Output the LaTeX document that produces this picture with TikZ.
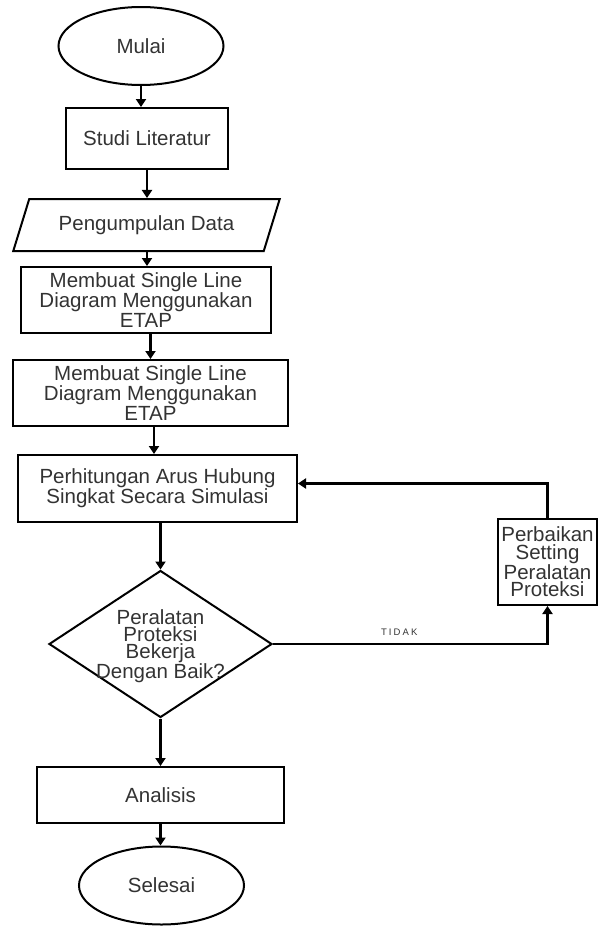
\documentclass[tikz,border=0pt]{standalone}
\usepackage{fontspec}
\setmainfont{Liberation Sans}
\newfontfamily\tidakfont[LetterSpace=22]{Liberation Sans}
\usetikzlibrary{shapes.geometric,arrows.meta}
\definecolor{txt}{HTML}{333333}
\begin{document}
\begin{tikzpicture}[x=1pt,y=-1pt,
  base/.style={draw=black,line width=2pt,text=txt,inner sep=0pt,align=center,
    font=\fontsize{20.5}{16}\selectfont},
  term/.style={base,ellipse,minimum width=165pt,minimum height=78pt},
  proc/.style={base,rectangle},
  io/.style={base,trapezium,trapezium left angle=58,trapezium right angle=122,
    trapezium stretches=true,minimum width=267pt,minimum height=52pt},
  dec/.style={draw=black,line width=2pt,diamond,minimum width=223pt,minimum height=147pt,inner sep=0pt},
  dectext/.style={text=txt,align=center,font=\fontsize{20.5}{17}\selectfont},
  arr/.style={line width=2.3pt,-{Triangle[width=10pt,length=8pt]}}]
\useasboundingbox (0,0) rectangle (598,926);
\node[term] (mulai) at (141,46) {Mulai};
\node[proc,minimum width=162pt,minimum height=61pt] (studi) at (147,138.5) {Studi Literatur};
\node[io] (data) at (146.5,225) {Pengumpulan Data};
\node[proc,minimum width=250pt,minimum height=66pt] (sld1) at (146,300) {Membuat Single Line\\Diagram Menggunakan\\ETAP};
\node[proc,minimum width=275pt,minimum height=66pt] (sld2) at (150.5,393) {Membuat Single Line\\Diagram Menggunakan\\ETAP};
\node[proc,minimum width=279pt,minimum height=67pt] (hit) at (157.5,488.5) {Perhitungan Arus Hubung\\Singkat Secara Simulasi};
\node[proc,minimum width=99pt,minimum height=86pt,font=\fontsize{20.5}{17.5}\selectfont] (perb) at (547.5,562) {Perbaikan\\Setting\\Peralatan\\Proteksi};
\node[dec] (dec) at (160.5,644) {};
\node[dectext] (dect) at (160.5,646) {Peralatan\\Proteksi\\Bekerja\\Dengan Baik?};
\node[proc,minimum width=247pt,minimum height=56pt] (anal) at (160.5,795) {Analisis};
\node[term] (sel) at (161.5,885.5) {Selesai};

\draw[arr] (mulai.south) -- (mulai.south |- studi.north);
\draw[arr] (studi.south) -- (studi.south |- data.north);
\draw[arr] (studi.south |- data.south) -- (studi.south |- sld1.north);
\draw[arr] (sld2.north |- sld1.south) -- (sld2.north);
\draw[arr] ([xshift=3.5pt]sld2.south) -- ([xshift=3.5pt]sld2.south |- hit.north);
\draw[arr] (dec.north |- hit.south) -- (dec.north);
\draw[arr] (dec.south) -- (anal.north);
\draw[arr] (anal.south) -- (anal.south |- sel.north);
\draw[arr] (perb.north) |- ([yshift=5pt]hit.east);
\draw[arr] (dec.east) -| node[pos=0.23,above=4pt,text=txt,font=\tidakfont\fontsize{9.5}{10}\selectfont] (tidak) {TIDAK} (perb.south);
\end{tikzpicture}
\end{document}
